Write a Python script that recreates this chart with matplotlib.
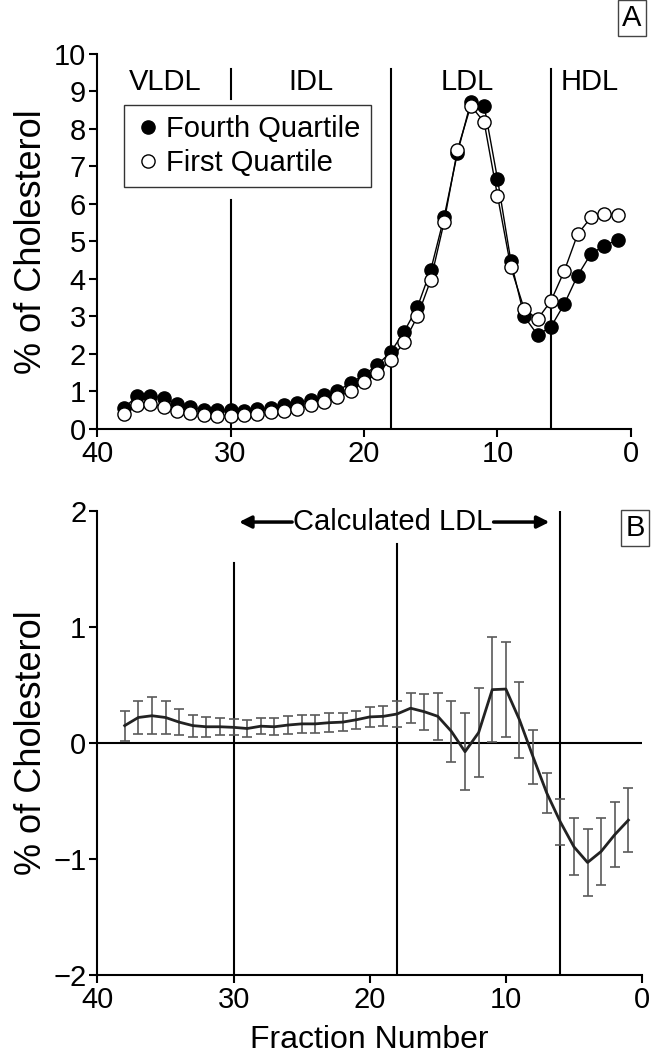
import matplotlib
matplotlib.use("Agg")
import matplotlib.pyplot as plt
from matplotlib.lines import Line2D

plt.rcParams['font.family'] = ['Liberation Sans', 'DejaVu Sans']
plt.rcParams['axes.unicode_minus'] = True

# ---------------- data ----------------
fractions = list(range(38, 0, -1))

fourth_quartile = [0.55, 0.88, 0.88, 0.83, 0.67, 0.59, 0.51, 0.50, 0.50, 0.48,
                   0.53, 0.56, 0.64, 0.69, 0.77, 0.90, 1.01, 1.23, 1.44, 1.71,
                   2.05, 2.59, 3.25, 4.24, 5.65, 7.36, 8.72, 8.62, 6.67, 4.48,
                   3.00, 2.51, 2.72, 3.33, 4.09, 4.67, 4.89, 5.04]

first_quartile = [0.40, 0.64, 0.67, 0.59, 0.48, 0.43, 0.37, 0.35, 0.35, 0.37,
                  0.40, 0.45, 0.48, 0.53, 0.64, 0.72, 0.85, 1.01, 1.25, 1.49,
                  1.84, 2.31, 3.00, 3.97, 5.52, 7.44, 8.62, 8.18, 6.22, 4.31,
                  3.20, 2.93, 3.41, 4.21, 5.19, 5.64, 5.73, 5.71]

difference = [0.15, 0.22, 0.235, 0.22, 0.18, 0.15, 0.14, 0.14, 0.135, 0.125,
              0.145, 0.14, 0.155, 0.165, 0.165, 0.175, 0.18, 0.20, 0.225, 0.23,
              0.25, 0.30, 0.27, 0.23, 0.10, -0.075, 0.09, 0.46, 0.465, 0.20,
              -0.12, -0.43, -0.68, -0.895, -1.03, -0.935, -0.79, -0.665]

difference_err = [0.13, 0.14, 0.16, 0.14, 0.11, 0.095, 0.085, 0.075, 0.07, 0.07,
                  0.07, 0.075, 0.075, 0.075, 0.075, 0.08, 0.08, 0.08, 0.085, 0.085,
                  0.11, 0.13, 0.155, 0.20, 0.26, 0.33, 0.38, 0.45, 0.41, 0.33,
                  0.23, 0.17, 0.20, 0.245, 0.29, 0.29, 0.28, 0.275]

boundaries = [30, 18, 6]
region_labels = ['VLDL', 'IDL', 'LDL', 'HDL']
region_label_x = [34.9, 24.0, 12.3, 3.1]
x_ticks = [40, 30, 20, 10, 0]
yticks_a = list(range(0, 11))
yticks_b = [-2, -1, 0, 1, 2]

FS_TICK = 21
FS_LABEL = 23
FS_YLABEL = 26

fig = plt.figure(figsize=(6.59, 10.6), dpi=100)

def style_axes(ax):
    for s in ['top', 'right']:
        ax.spines[s].set_visible(False)
    for s in ['left', 'bottom']:
        ax.spines[s].set_linewidth(1.5)
    ax.tick_params(direction='out', length=6, width=1.5, labelsize=FS_TICK, pad=2)

# ---------------- Panel A ----------------
axA = fig.add_axes([0.1472, 0.5953, 0.8103, 0.3538])
axA.set_xlim(40, 0)
axA.set_ylim(0, 10)
style_axes(axA)
axA.set_xticks(x_ticks)
axA.set_yticks(yticks_a)
axA.set_ylabel('% of Cholesterol', fontsize=FS_YLABEL, labelpad=3)

# boundary lines
axA.plot([30, 30], [8.8, 9.6], color='k', lw=1.5, zorder=1)
axA.plot([30, 30], [0, 6.1], color='k', lw=1.5, zorder=1)
axA.plot([18, 18], [0, 9.6], color='k', lw=1.5, zorder=1)
axA.plot([6, 6], [0, 9.6], color='k', lw=1.5, zorder=1)

for lab, xx in zip(region_labels, region_label_x):
    axA.text(xx, 9.25, lab, ha='center', va='center', fontsize=FS_TICK)

axA.plot(fractions, fourth_quartile, '-o', color='k', lw=1.0, ms=9.5,
         mfc='k', mec='k', mew=1.0, zorder=3)
axA.plot(fractions, first_quartile, '-o', color='k', lw=1.0, ms=9.5,
         mfc='white', mec='k', mew=1.0, zorder=4)

handles = [Line2D([], [], ls='none', marker='o', ms=9.5, mfc='k', mec='k'),
           Line2D([], [], ls='none', marker='o', ms=9.5, mfc='white', mec='k')]
leg = axA.legend(handles, ['Fourth Quartile', 'First Quartile'], loc='upper left',
                 bbox_to_anchor=(0.05, 0.864), borderaxespad=0, fontsize=FS_TICK,
                 frameon=True, fancybox=False, handletextpad=0.1, handlelength=1.0,
                 borderpad=0.35, labelspacing=0.2)
leg.get_frame().set_edgecolor('k')
leg.get_frame().set_linewidth(1.0)

# ---------------- Panel B ----------------
axB = fig.add_axes([0.1479, 0.0802, 0.8263, 0.4377])
axB.set_xlim(40, 0)
axB.set_ylim(-2, 2)
style_axes(axB)
axB.set_xticks(x_ticks)
axB.set_yticks(yticks_b)
axB.set_ylabel('% of Cholesterol', fontsize=FS_YLABEL, labelpad=3)
axB.set_xlabel('Fraction Number', fontsize=FS_LABEL, labelpad=8)

axB.axhline(0, color='k', lw=1.5, zorder=1)
axB.plot([30, 30], [-2, 1.55], color='k', lw=1.5, zorder=1)
axB.plot([18, 18], [-2, 1.72], color='k', lw=1.5, zorder=1)
axB.plot([6, 6], [-2, 2.0], color='k', lw=1.5, zorder=1)

axB.errorbar(fractions, difference, yerr=difference_err, fmt='none',
             ecolor='#5a5a5a', elinewidth=1.2, capsize=3.8, capthick=1.2, zorder=2)
axB.plot(fractions, difference, color='#222222', lw=2.0, zorder=3)

axB.text(18.3, 1.905, 'Calculated LDL', ha='center', va='center', fontsize=FS_TICK)
axB.annotate('', xy=(29.6, 1.905), xytext=(25.7, 1.905),
             arrowprops=dict(arrowstyle='-|>', lw=2.5, color='k', mutation_scale=18,
                             shrinkA=0, shrinkB=0))
axB.annotate('', xy=(6.8, 1.905), xytext=(10.9, 1.905),
             arrowprops=dict(arrowstyle='-|>', lw=2.5, color='k', mutation_scale=18,
                             shrinkA=0, shrinkB=0))

# panel letters
box = dict(boxstyle='square,pad=0.15', fc='white', ec='#444444', lw=1.0)
fig.text(632 / 659, 1 - 18 / 1060, 'A', ha='center', va='center', fontsize=FS_TICK, bbox=box)
fig.text(635 / 659, 1 - 528 / 1060, 'B', ha='center', va='center', fontsize=FS_TICK, bbox=box)

fig.savefig('out.png', dpi=100)
